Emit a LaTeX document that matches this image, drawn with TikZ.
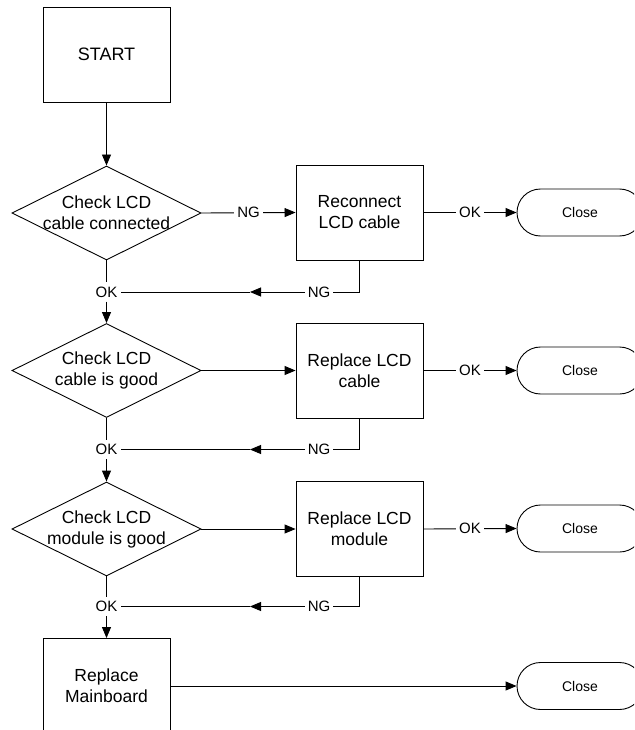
\documentclass[tikz,border=0pt]{standalone}
\usepackage{fontspec}
\setmainfont{Liberation Sans}
\usetikzlibrary{shapes.geometric,shapes.misc,arrows.meta}
\tikzset{
  ln/.style={line width=0.9pt, draw=black},
  arr/.style={ln, -{Triangle[length=11pt,width=9pt]}},
  box/.style={ln, rectangle, minimum width=127pt, minimum height=95pt, inner sep=0pt,
    align=center, font=\fontsize{17.5}{21}\selectfont},
  dia/.style={ln, diamond, minimum width=189pt, minimum height=94pt, inner sep=0pt},
  diatxt/.style={align=center, inner sep=0pt, font=\fontsize{17.5}{21}\selectfont},
  closebox/.style={ln, rounded rectangle, minimum width=126pt, minimum height=47pt,
    inner sep=0pt, font=\fontsize{14}{17}\selectfont},
  lbl/.style={fill=white, inner xsep=3pt, inner ysep=4pt, font=\fontsize{15}{18}\selectfont}
}
\begin{document}
\begin{tikzpicture}[x=1pt,y=-1pt]
\useasboundingbox (0,0) rectangle (634,730);
\clip (0,0) rectangle (634,730);

% nodes
\node[box, font=\fontsize{18}{21}\selectfont] (start) at (106.5,54.5) {START};

\node[dia] (d1) at (106.5,213) {};
\node[diatxt] (d1t) at (d1) {Check LCD\\cable connected};
\node[box] (rec) at (359.5,212.5) {Reconnect\\LCD cable};
\node[closebox] (c1) at (580,212.5) {Close};
\node[lbl] (ok1) at (106.5,292) {OK};
\node[lbl] (ng1) at (319,292) {NG};
\coordinate (t1) at (250,292);

\node[dia] (d2) at (106.5,370.5) {};
\node[diatxt] (d2t) at (d2) {Check LCD\\cable is good};
\node[box] (rep1) at (359.5,370.5) {Replace LCD\\cable};
\node[closebox] (c2) at (580,370.5) {Close};
\node[lbl] (ok2) at (106.5,449.5) {OK};
\node[lbl] (ng2) at (319,449.5) {NG};
\coordinate (t2) at (250,449.5);

\node[dia] (d3) at (106.5,529) {};
\node[diatxt] (d3t) at (d3) {Check LCD\\module is good};
\node[box] (rep2) at (359.5,529) {Replace LCD\\module};
\node[closebox] (c3) at (580,528.5) {Close};
\node[lbl] (ok3) at (106.5,606.5) {OK};
\node[lbl] (ng3) at (319,606.5) {NG};
\coordinate (t3) at (250,606.5);

\node[box] (mb) at (106.5,686) {Replace\\Mainboard};
\node[closebox] (c4) at (580,686) {Close};

% connectors
\draw[arr] (start) -- (d1);
\draw[arr] (d1.east) -- node[lbl]{NG} (rec.west);
\draw[arr] (rec.east) -- node[lbl]{OK} (c1.west);
\draw[ln] (d1.south) -- (ok1);
\draw[ln] (rec.south) |- (ng1.east);
\draw[arr] (ng1.west) -- (t1);
\draw[ln] (t1) -- (ok1.east);
\draw[arr] (ok1) -- (d2.north);

\draw[arr] (d2.east) -- (rep1.west);
\draw[arr] (rep1.east) -- node[lbl]{OK} (c2.west);
\draw[ln] (d2.south) -- (ok2);
\draw[ln] (rep1.south) |- (ng2.east);
\draw[arr] (ng2.west) -- (t2);
\draw[ln] (t2) -- (ok2.east);
\draw[arr] (ok2) -- (d3.north);

\draw[arr] (d3.east) -- (rep2.west);
\draw[arr] (rep2.east) -- node[lbl]{OK} (c3.west);
\draw[ln] (d3.south) -- (ok3);
\draw[ln] (rep2.south) |- (ng3.east);
\draw[arr] (ng3.west) -- (t3);
\draw[ln] (t3) -- (ok3.east);
\draw[arr] (ok3) -- (mb.north);

\draw[arr] (mb.east) -- (c4.west);
\end{tikzpicture}
\end{document}
